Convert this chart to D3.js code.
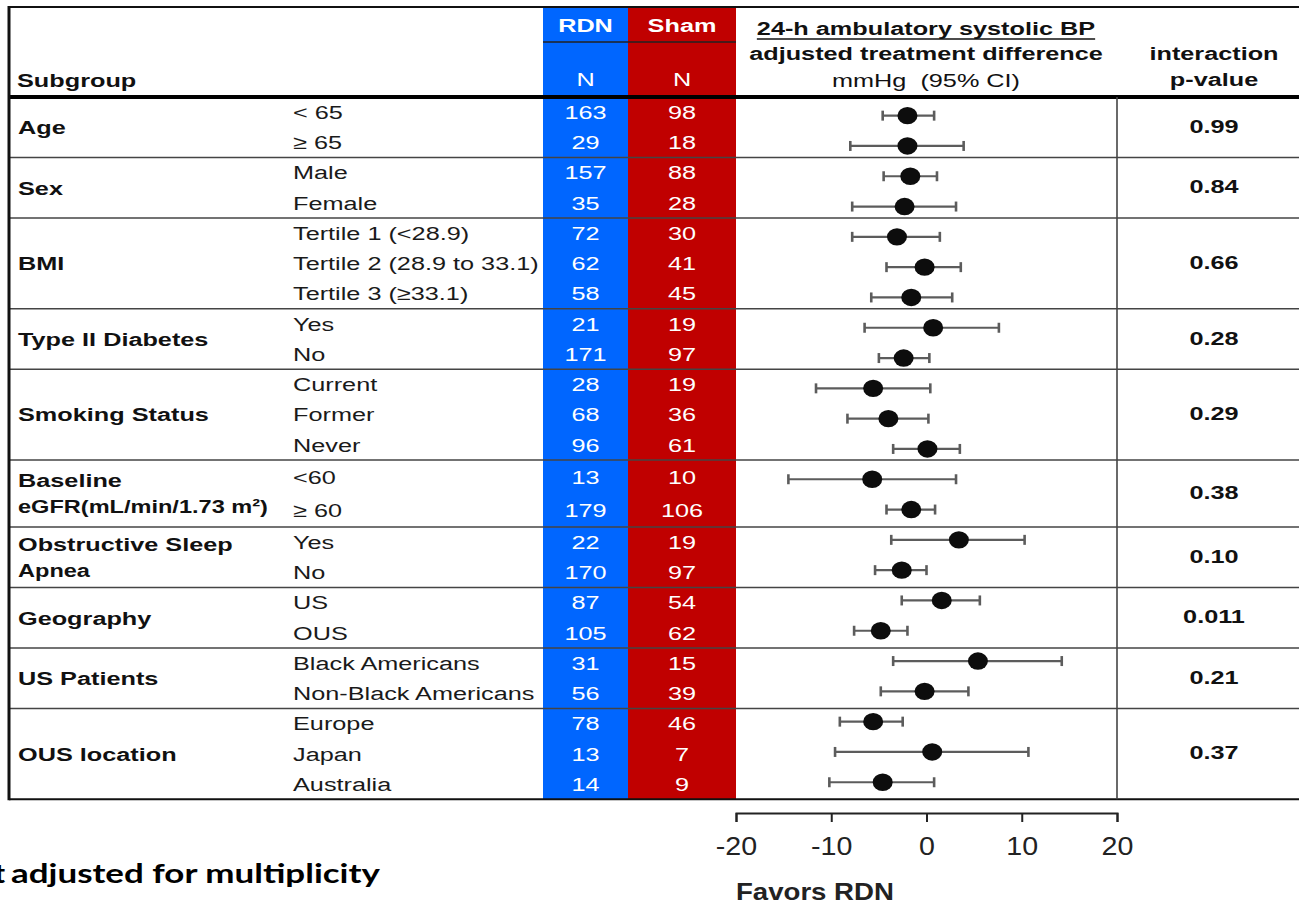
<!DOCTYPE html>
<html>
<head>
<meta charset="utf-8">
<script src="https://cdn.jsdelivr.net/npm/d3@7/dist/d3.min.js"></script>
<style>
  body { margin: 0; background: #fff; }
</style>
</head>
<body>
<script>
// subgroup table data
var groups = ["Age", "Sex", "BMI", "Type II Diabetes", "Smoking Status",
  "Baseline|eGFR(mL/min/1.73 m²)", "Obstructive Sleep|Apnea", "Geography", "US Patients", "OUS location"];
var pValues = ["0.99", "0.84", "0.66", "0.28", "0.29", "0.38", "0.10", "0.011", "0.21", "0.37"];

var subgroups = ["< 65", "≥ 65", "Male", "Female", "Tertile 1 (<28.9)", "Tertile 2 (28.9 to 33.1)", "Tertile 3 (≥33.1)",
  "Yes", "No", "Current", "Former", "Never", "<60", "≥ 60", "Yes", "No", "US", "OUS",
  "Black Americans", "Non-Black Americans", "Europe", "Japan", "Australia"];
var rowGroup = [0, 0, 1, 1, 2, 2, 2, 3, 3, 4, 4, 4, 5, 5, 6, 6, 7, 7, 8, 8, 9, 9, 9];

var rdnN  = [163, 29, 157, 35, 72, 62, 58, 21, 171, 28, 68, 96, 13, 179, 22, 170, 87, 105, 31, 56, 78, 13, 14];
var shamN = [98, 18, 88, 28, 30, 41, 45, 19, 97, 19, 36, 61, 10, 106, 19, 97, 54, 62, 15, 39, 46, 7, 9];

// adjusted treatment difference, mmHg (95% CI)
var estimate = [-2.0, -2.0, -1.7, -2.3, -3.1, -0.2, -1.6, 0.7, -2.4, -5.6, -4.0, 0.1, -5.7, -1.6, 3.4, -2.6, 1.6, -4.8, 5.4, -0.2, -5.6, 0.6, -4.6];
var ciLow    = [-4.6, -8.0, -4.5, -7.8, -7.8, -4.2, -5.8, -6.5, -5.0, -11.6, -8.3, -3.5, -14.5, -4.2, -3.7, -5.4, -2.6, -7.6, -3.5, -4.8, -9.1, -9.6, -10.2];
var ciHigh   = [0.8, 3.9, 1.1, 3.1, 1.4, 3.6, 2.7, 7.6, 0.3, 0.4, 0.2, 3.5, 3.1, 0.9, 10.3, 0.0, 5.6, -2.0, 14.2, 4.4, -2.5, 10.7, 0.8];

var xTicks = [-20, -10, 0, 10, 20];

var width = 1299, height = 904;
var left = 9, right = 1299, top0 = 7, headBottom = 97;
var rdnX0 = 543, shamX0 = 628, plotX0 = 736, plotX1 = 1117, pCenter = 1214;
var FONT = "'Liberation Sans', Arial, sans-serif";
var fs = 19, sx = 1.33;

var svg = d3.select("body").append("svg")
    .attr("width", width)
    .attr("height", height);

svg.append("rect").attr("width", width).attr("height", height).attr("fill", "#fff");

// text helper - source text is horizontally stretched
function stext(g, x, y, str, o) {
  o = o || {};
  return g.append("text")
    .attr("transform", "translate(" + x + "," + y + ") scale(" + (o.sx || sx) + ",1)")
    .attr("text-anchor", o.anchor || "start")
    .style("font-family", o.family || FONT)
    .style("font-size", (o.size || fs) + "px")
    .style("font-weight", o.bold ? "bold" : "normal")
    .style("white-space", "pre")
    .attr("fill", o.fill || "#111")
    .text(str);
}

// group cells (eGFR group is a bit taller)
var cells = [];
var yCur = headBottom;
groups.forEach(function(g, gi) {
  var n = rowGroup.filter(function(r) { return r === gi; }).length;
  var h = (gi === 5 ? 33.5 : 30.25) * n;
  cells.push({ top: yCur, bottom: yCur + h, n: n });
  yCur += h;
});
var tableBottom = yCur;

function textRowY(i) {
  var gi = rowGroup[i], c = cells[gi];
  var k = i - rowGroup.indexOf(gi);
  return c.top + (k + 0.5) * (c.bottom - c.top) / c.n;
}

var yDot = d3.scaleBand().domain(d3.range(subgroups.length)).range([100.5, 797.4]);
var x = d3.scaleLinear().domain([-20, 20]).range([plotX0, plotX1]);

// coloured N columns
svg.append("rect").attr("x", rdnX0).attr("y", top0).attr("width", shamX0 - rdnX0)
  .attr("height", tableBottom - top0).attr("fill", "#0066ff");
svg.append("rect").attr("x", shamX0).attr("y", top0).attr("width", plotX0 - shamX0)
  .attr("height", tableBottom - top0).attr("fill", "#c00000");

// grid lines
var lines = svg.append("g");
cells.slice(0, -1).forEach(function(c) {
  lines.append("line").attr("x1", left).attr("x2", right).attr("y1", c.bottom).attr("y2", c.bottom)
    .attr("stroke", "#444").attr("stroke-width", 1.6);
});
lines.append("line").attr("x1", left).attr("x2", right).attr("y1", tableBottom).attr("y2", tableBottom)
  .attr("stroke", "#111").attr("stroke-width", 1.8);
lines.append("line").attr("x1", left).attr("x2", right).attr("y1", top0).attr("y2", top0)
  .attr("stroke", "#111").attr("stroke-width", 2.2);
lines.append("line").attr("x1", left).attr("x2", right).attr("y1", headBottom).attr("y2", headBottom)
  .attr("stroke", "#000").attr("stroke-width", 4);
lines.append("line").attr("x1", left).attr("x2", left).attr("y1", top0 - 1).attr("y2", tableBottom + 1)
  .attr("stroke", "#111").attr("stroke-width", 3);
lines.append("line").attr("x1", plotX1).attr("x2", plotX1).attr("y1", headBottom).attr("y2", tableBottom)
  .attr("stroke", "#444").attr("stroke-width", 1.6);
lines.append("line").attr("x1", rdnX0).attr("x2", plotX0).attr("y1", 42).attr("y2", 42)
  .attr("stroke", "#222").attr("stroke-width", 1.5);

// header
var head = svg.append("g");
stext(head, 17, 87, "Subgroup", { bold: true });
stext(head, (rdnX0 + shamX0) / 2, 32, "RDN", { bold: true, anchor: "middle", fill: "#fff" });
stext(head, (shamX0 + plotX0) / 2, 32, "Sham", { bold: true, anchor: "middle", fill: "#fff" });
stext(head, (rdnX0 + shamX0) / 2, 86, "N", { anchor: "middle", fill: "#fff" });
stext(head, (shamX0 + plotX0) / 2, 86, "N", { anchor: "middle", fill: "#fff" });

var titleX = 926;
var t1 = stext(head, titleX, 35, "24-h ambulatory systolic BP", { bold: true, anchor: "middle" });
var tw = t1.node().getComputedTextLength() * sx;
head.append("line").attr("x1", titleX - tw / 2).attr("x2", titleX + tw / 2)
  .attr("y1", 39).attr("y2", 39).attr("stroke", "#111").attr("stroke-width", 1.6);
stext(head, titleX, 60, "adjusted treatment difference", { bold: true, anchor: "middle" });
stext(head, titleX, 87, "mmHg  (95% CI)", { anchor: "middle" });
stext(head, pCenter, 60, "interaction", { bold: true, anchor: "middle" });
stext(head, pCenter, 86, "p-value", { bold: true, anchor: "middle" });

// group labels and p-values
var lab = svg.append("g");
groups.forEach(function(g, gi) {
  var c = cells[gi], mid = (c.top + c.bottom) / 2;
  var parts = g.split("|");
  if (parts.length === 1) {
    stext(lab, 18, mid + 6.8, g, { bold: true });
  } else {
    stext(lab, 18, mid - 13 + 6.8, parts[0], { bold: true });
    stext(lab, 18, mid + 13 + 6.8, parts[1], { bold: true, sx: 1.24 });
  }
  stext(lab, pCenter, mid + 5.5, pValues[gi], { bold: true, anchor: "middle" });
});

// subgroup rows
subgroups.forEach(function(s, i) {
  var y = textRowY(i) + 6.8;
  stext(lab, 293, y, s, { fill: "#1a1a1a" });
  stext(lab, (rdnX0 + shamX0) / 2, y, rdnN[i], { anchor: "middle", fill: "#fff" });
  stext(lab, (shamX0 + plotX0) / 2, y, shamN[i], { anchor: "middle", fill: "#fff" });
});

// forest marks
var rows = d3.range(subgroups.length);
var forest = svg.append("g");
var cy = function(i) { return yDot(i) + yDot.bandwidth() / 2; };

forest.selectAll("line.ci").data(rows).enter().append("line")
  .attr("class", "ci")
  .attr("x1", function(i) { return x(ciLow[i]); })
  .attr("x2", function(i) { return x(ciHigh[i]); })
  .attr("y1", cy).attr("y2", cy)
  .attr("stroke", "#5c5c5c").attr("stroke-width", 2.2);

[ciLow, ciHigh].forEach(function(arr) {
  forest.append("g").selectAll("line").data(rows).enter().append("line")
    .attr("x1", function(i) { return x(arr[i]); })
    .attr("x2", function(i) { return x(arr[i]); })
    .attr("y1", function(i) { return cy(i) - 5; })
    .attr("y2", function(i) { return cy(i) + 5; })
    .attr("stroke", "#5c5c5c").attr("stroke-width", 2.6);
});

forest.selectAll("ellipse").data(rows).enter().append("ellipse")
  .attr("cx", function(i) { return x(estimate[i]); })
  .attr("cy", cy)
  .attr("rx", 10).attr("ry", 8.7)
  .attr("fill", "#0d0d0d");

// axis
var axis = svg.append("g")
  .attr("transform", "translate(0,813)")
  .call(d3.axisBottom(x).tickValues(xTicks).tickSize(9).tickPadding(15)
    .tickFormat(function(d) { return String(d); }));
axis.select(".domain").attr("stroke", "#222").attr("stroke-width", 2);
axis.selectAll(".tick line").attr("stroke", "#222").attr("stroke-width", 2);
axis.selectAll(".tick text")
  .attr("transform", "scale(1.1,1)")
  .style("font-family", FONT)
  .style("font-size", "26px")
  .attr("fill", "#222");

stext(svg, plotX0, 900, "Favors RDN", { bold: true, size: 23, sx: 1.2, fill: "#222" });

// footnote, cut at the left edge
var note = svg.append("text")
  .attr("x", 0).attr("y", 0)
  .style("font-family", "Lato, 'Open Sans', sans-serif")
  .style("font-size", "27px")
  .style("font-weight", "bold")
  .attr("fill", "#000")
  .text("adjusted for multiplicity");
var nw = note.node().getComputedTextLength();
note.attr("transform", "translate(11,883) scale(" + (369 / nw) + ",1)");
svg.append("text")
  .attr("x", 5).attr("y", 883)
  .attr("text-anchor", "end")
  .style("font-family", "Lato, 'Open Sans', sans-serif")
  .style("font-size", "27px")
  .style("font-weight", "bold")
  .attr("fill", "#000")
  .text("Not");
</script>
</body>
</html>
